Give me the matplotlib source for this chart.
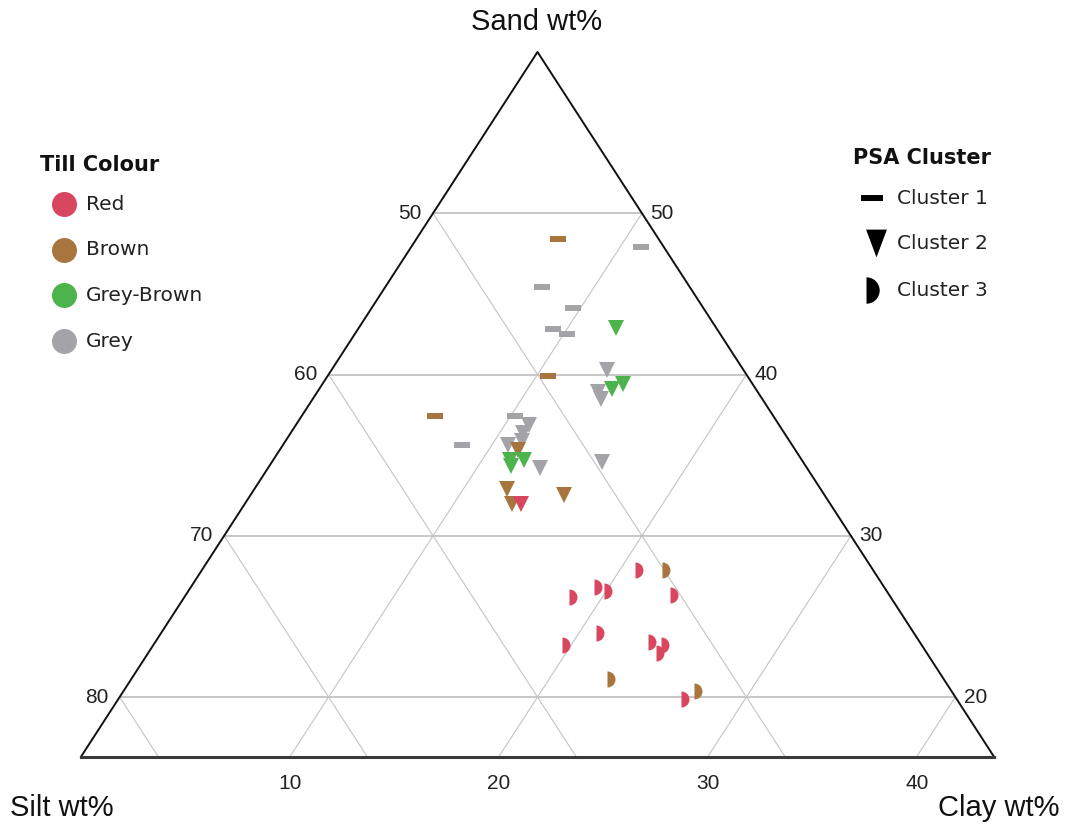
import matplotlib
matplotlib.use('Agg')
import matplotlib.pyplot as plt
import numpy as np

# zoomed window of the sand-silt-clay triangle (wt%)
SAND_MAX = 60.0
SAND_MIN = 16.3
SILT_MIN = 40.0
SPAN = SAND_MAX - SAND_MIN

sand_ticks = [50, 40, 30, 20]
silt_ticks = [50, 60, 70, 80]
clay_ticks = [10, 20, 30, 40]

colour_names = ['Red', 'Brown', 'Grey-Brown', 'Grey']
cluster_names = ['Cluster 1', 'Cluster 2', 'Cluster 3']

# Cluster 1
c1_brown_sand = [48.4, 39.9, 37.4]
c1_brown_clay = [6.8, 10.55, 6.4]
c1_grey_sand = [47.9, 45.4, 44.1, 42.8, 42.5, 35.6, 37.4]
c1_grey_clay = [11.0, 7.5, 9.65, 9.35, 10.15, 8.6, 10.2]

# Cluster 2
c2_grey_sand = [40.3, 38.9, 38.5, 34.6, 36.9, 36.4, 35.9, 35.6, 34.2]
c2_grey_clay = [13.2, 13.45, 13.8, 15.8, 11.15, 11.1, 11.3, 10.8, 13.0]
c2_brown_sand = [35.3, 32.9, 32.5, 32.0]
c2_brown_clay = [11.4, 12.1, 15.0, 12.8]
c2_green_sand = [42.9, 39.4, 39.1, 34.7, 34.7, 34.3]
c2_green_clay = [12.3, 14.4, 14.0, 11.35, 12.0, 11.6]
c2_red_sand = [32.0]
c2_red_clay = [13.2]

# Cluster 3
c3_brown_sand = [27.9, 21.1, 20.4]
c3_brown_clay = [22.0, 22.8, 27.3]
c3_red_sand = [27.9, 26.8, 26.6, 26.2, 26.3, 24.0, 23.2, 23.4, 23.2, 22.7, 19.9]
c3_red_clay = [20.7, 19.3, 19.9, 18.4, 23.2, 20.8, 19.55, 23.6, 24.3, 24.3, 26.9]

colours = {'Red': '#d8475f', 'Brown': '#a8753f', 'Grey-Brown': '#4db44d', 'Grey': '#a3a3a8'}


def tern(sand, clay):
    # sand/clay wt% -> cartesian position inside the zoomed triangle
    sand = np.asarray(sand, dtype=float)
    clay = np.asarray(clay, dtype=float)
    h = sand - SAND_MIN
    return clay + 0.5 * h, h


dash = [(-1, -0.35), (1, -0.35), (1, 0.35), (-1, 0.35)]

W, H = 1065, 824
fig = plt.figure(figsize=(W / 100, H / 100), dpi=100)

# overlay in pixel units for titles and legends
ov = fig.add_axes([0, 0, 1, 1])
ov.set_xlim(0, W)
ov.set_ylim(H, 0)
ov.axis('off')

left_px, right_px, bot_px, top_px = 81, 994, 756.7, 52
ax = fig.add_axes([left_px / W, 1 - bot_px / H, (right_px - left_px) / W, (bot_px - top_px) / H])
ax.set_xlim(0, SPAN)
ax.set_ylim(0, SPAN)
ax.axis('off')

# grid lines
for s in sand_ticks:
    x, y = tern([s, s], [0, 100 - SILT_MIN - s])
    ax.plot(x, y, color='#b8b8b8', lw=1.1, zorder=1)
for c in clay_ticks:
    x, y = tern([SAND_MIN, 100 - SILT_MIN - c], [c, c])
    ax.plot(x, y, color='#c4c4c4', lw=0.8, zorder=1)
for t in silt_ticks:
    x, y = tern([100 - t, SAND_MIN], [0, 100 - t - SAND_MIN])
    ax.plot(x, y, color='#c4c4c4', lw=0.8, zorder=1)

# triangle outline
x, y = tern([SAND_MIN, SAND_MAX, SAND_MIN], [0, 0, SPAN])
ax.plot(x, y, color='#111111', lw=1.4, zorder=2, clip_on=False)
x, y = tern([SAND_MIN, SAND_MIN], [0, SPAN])
ax.plot(x, y, color='#3a3a3a', lw=2.2, zorder=2, clip_on=False)

# tick labels
tick_kw = dict(textcoords='offset points', fontsize=15, color='#222222',
               family=['Liberation Sans', 'DejaVu Sans'])
for t in silt_ticks:
    x, y = tern(100 - t, 0)
    ax.annotate(str(t), (x, y), xytext=(-8, 0), ha='right', va='center', **tick_kw)
for s in sand_ticks:
    x, y = tern(s, 100 - SILT_MIN - s)
    ax.annotate(str(s), (x, y), xytext=(6, 0), ha='left', va='center', **tick_kw)
for c in clay_ticks:
    x, y = tern(SAND_MIN, c)
    ax.annotate(str(c), (x, y), xytext=(0, -19), ha='center', va='center', **tick_kw)

# data
ms_dash, ms_tri, ms_half = 12.2, 11.5, 11.5
groups = [
    (c1_grey_sand, c1_grey_clay, 'Grey', 1),
    (c1_brown_sand, c1_brown_clay, 'Brown', 1),
    (c2_grey_sand, c2_grey_clay, 'Grey', 2),
    (c2_brown_sand, c2_brown_clay, 'Brown', 2),
    (c2_green_sand, c2_green_clay, 'Grey-Brown', 2),
    (c2_red_sand, c2_red_clay, 'Red', 2),
    (c3_brown_sand, c3_brown_clay, 'Brown', 3),
    (c3_red_sand, c3_red_clay, 'Red', 3),
]
for sand, clay, col, cl in groups:
    x, y = tern(sand, clay)
    if cl == 1:
        ax.plot(x, y, ls='none', marker=dash, ms=ms_dash, mfc=colours[col], mew=0, zorder=3)
    elif cl == 2:
        ax.plot(x, y, ls='none', marker='v', ms=ms_tri, mfc=colours[col], mew=0, zorder=3)
    else:
        ax.plot(x, y, ls='none', marker='o', fillstyle='right', ms=ms_half,
                mfc=colours[col], markerfacecoloralt='none', mew=0, zorder=3)

# axis titles
title_kw = dict(fontsize=21, color='#111111', family=['Liberation Sans', 'DejaVu Sans'])
ov.text(537, 22, 'Sand wt%', ha='center', va='center', **title_kw)
ov.text(10, 808, 'Silt wt%', ha='left', va='center', **title_kw)
ov.text(1060, 808, 'Clay wt%', ha='right', va='center', **title_kw)

# legend: till colour
leg_kw = dict(fontsize=14.5, color='#222222', family='DejaVu Sans', va='center')
ov.text(40, 165, 'Till Colour', fontsize=15, fontweight='bold', color='#111111',
        family='DejaVu Sans', va='center', ha='left')
for i, name in enumerate(colour_names):
    yy = 204 + i * 45.7
    ov.plot(64, yy, marker='o', ms=18, mfc=colours[name], mew=0, ls='none')
    ov.text(86, yy, name, ha='left', **leg_kw)

# legend: PSA cluster
ov.text(853, 158, 'PSA Cluster', fontsize=15, fontweight='bold', color='#111111',
        family='DejaVu Sans', va='center', ha='left')
leg_dash = [(-1, -0.3), (1, -0.3), (1, 0.3), (-1, 0.3)]
leg_tri = [(-0.75, 1), (0.75, 1), (0, -1)]
rows = [198, 243, 290]
ov.plot(872, rows[0], marker=leg_dash, ms=16.5, mfc='black', mew=0, ls='none')
ov.plot(876, rows[1], marker=leg_tri, ms=20, mfc='black', mew=0, ls='none')
ov.plot(866, rows[2], marker='o', fillstyle='right', ms=19, mfc='black',
        markerfacecoloralt='none', mew=0, ls='none')
for yy, name in zip(rows, cluster_names):
    ov.text(897, yy, name, ha='left', **leg_kw)

fig.savefig('out.png', dpi=100)
